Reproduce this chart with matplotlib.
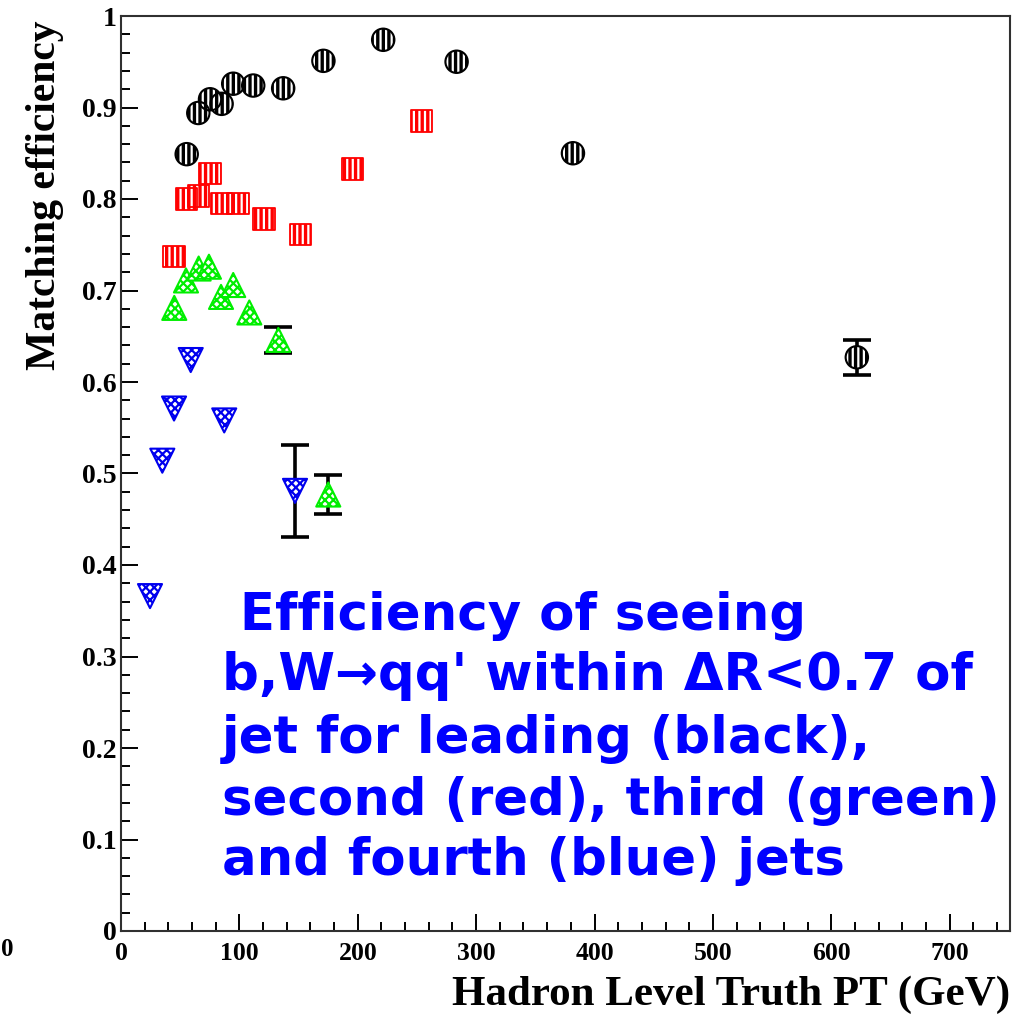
import matplotlib
matplotlib.use("Agg")
import matplotlib.pyplot as plt
from matplotlib.ticker import MultipleLocator, FuncFormatter

plt.rcParams["hatch.linewidth"] = 1.6

# leading jet (black)
pt_lead = [55.5, 65.3, 75.2, 85.0, 94.8, 111.7, 137.0, 171.0, 221.5, 283.5, 381.8, 621.6]
eff_lead = [0.849, 0.894, 0.909, 0.904, 0.926, 0.924, 0.921, 0.951, 0.974, 0.950, 0.850, 0.627]
err_lead = [0, 0, 0, 0, 0, 0, 0, 0, 0, 0, 0, 0.019]

# second jet (red)
pt_second = [44.8, 55.5, 65.3, 75.2, 85.0, 99.0, 121.0, 151.8, 195.7, 254.0]
eff_second = [0.737, 0.800, 0.803, 0.828, 0.795, 0.795, 0.778, 0.761, 0.833, 0.885]

# third jet (green)
pt_third = [45.0, 54.9, 65.6, 74.3, 84.5, 94.8, 108.4, 132.9, 175.1]
eff_third = [0.681, 0.711, 0.724, 0.726, 0.693, 0.706, 0.676, 0.646, 0.477]
err_third = [0, 0, 0, 0, 0, 0, 0, 0.014, 0.021]

# fourth jet (blue)
pt_fourth = [24.5, 34.9, 44.8, 58.9, 87.2, 147.0]
eff_fourth = [0.366, 0.514, 0.571, 0.624, 0.558, 0.481]
err_fourth = [0, 0, 0, 0, 0, 0.05]

fig = plt.figure(figsize=(10.36, 10.16), dpi=100)
ax = fig.add_axes([121 / 1036, 1 - 931 / 1016, 889 / 1036, 915 / 1016])


def draw_errors(xs, ys, es):
    # only the points whose error bar sticks out of the marker
    pts = [(x, y, e) for x, y, e in zip(xs, ys, es) if e > 0]
    if not pts:
        return
    x, y, e = zip(*pts)
    ax.errorbar(x, y, yerr=e, fmt="none", ecolor="black", elinewidth=2.6,
                capsize=10, capthick=2.6, zorder=1)


draw_errors(pt_lead, eff_lead, err_lead)
draw_errors(pt_third, eff_third, err_third)
draw_errors(pt_fourth, eff_fourth, err_fourth)

# hatched markers, ROOT style
ax.scatter(pt_second, eff_second, s=240, marker="s", facecolor="red",
           edgecolor="white", hatch="|||", linewidth=0, zorder=3)
ax.scatter(pt_second, eff_second, s=240, marker="s", facecolor="none",
           edgecolor="red", linewidth=1.3, zorder=3)
ax.scatter(pt_third, eff_third, s=300, marker="^", facecolor="white",
           edgecolor="#00ee00", hatch="xxxx", linewidth=1.5, zorder=3)
ax.scatter(pt_fourth, eff_fourth, s=300, marker="v", facecolor="white",
           edgecolor="#0000ee", hatch="xxxx", linewidth=1.5, zorder=3)
ax.scatter(pt_lead, eff_lead, s=260, marker="o", facecolor="black",
           edgecolor="white", hatch="|||", linewidth=0, zorder=4)
ax.scatter(pt_lead, eff_lead, s=260, marker="o", facecolor="none",
           edgecolor="black", linewidth=1.5, zorder=4)

ax.set_xlim(0, 751)
ax.set_ylim(0, 1)
ax.xaxis.set_major_locator(MultipleLocator(100))
ax.xaxis.set_minor_locator(MultipleLocator(20))
ax.yaxis.set_major_locator(MultipleLocator(0.1))
ax.yaxis.set_minor_locator(MultipleLocator(0.02))
ax.yaxis.set_major_formatter(FuncFormatter(lambda v, p: "%g" % round(v, 2)))
ax.xaxis.set_major_formatter(FuncFormatter(lambda v, p: "%d" % v))

serif = {"family": "Liberation Serif", "weight": "bold"}
ax.tick_params(which="both", direction="in", top=False, right=False)
ax.tick_params(which="major", length=12, width=1.4)
ax.tick_params(which="minor", length=6.5, width=1.4)
ax.tick_params(axis="y", pad=3)
ax.tick_params(axis="x", pad=8)
for lab in ax.get_xticklabels():
    lab.set_fontproperties(serif)
    lab.set_fontsize(18.5)
for lab in ax.get_yticklabels():
    lab.set_fontproperties(serif)
    lab.set_fontsize(20)
for sp in ax.spines.values():
    sp.set_linewidth(1.5)
    sp.set_color("#303030")

fig.text(1010 / 1036, 1 - 995 / 1016, "Hadron Level Truth PT (GeV)", ha="right", va="center",
         fontsize=31, **serif)
fig.text(45 / 1036, 1 - 195 / 1016, "Matching efficiency", rotation=90, ha="center", va="center",
         fontsize=30, **serif)

# tick label left over from a neighbouring pad
fig.text(1 / 1036, 1 - 950 / 1016, "0", ha="left", va="center", fontsize=18, **serif)

note = [" Efficiency of seeing",
        "b,W\u2192qq' within \u0394R<0.7 of",
        "jet for leading (black),",
        "second (red), third (green)",
        "and fourth (blue) jets"]
baselines = [630, 690, 753, 815, 875]
for line, yb in zip(note, baselines):
    fig.text(222 / 1036, 1 - yb / 1016, line, ha="left", va="baseline", color="#0000ff",
             fontsize=37, fontweight="bold", family="DejaVu Sans")

fig.savefig("out.png", dpi=100)
